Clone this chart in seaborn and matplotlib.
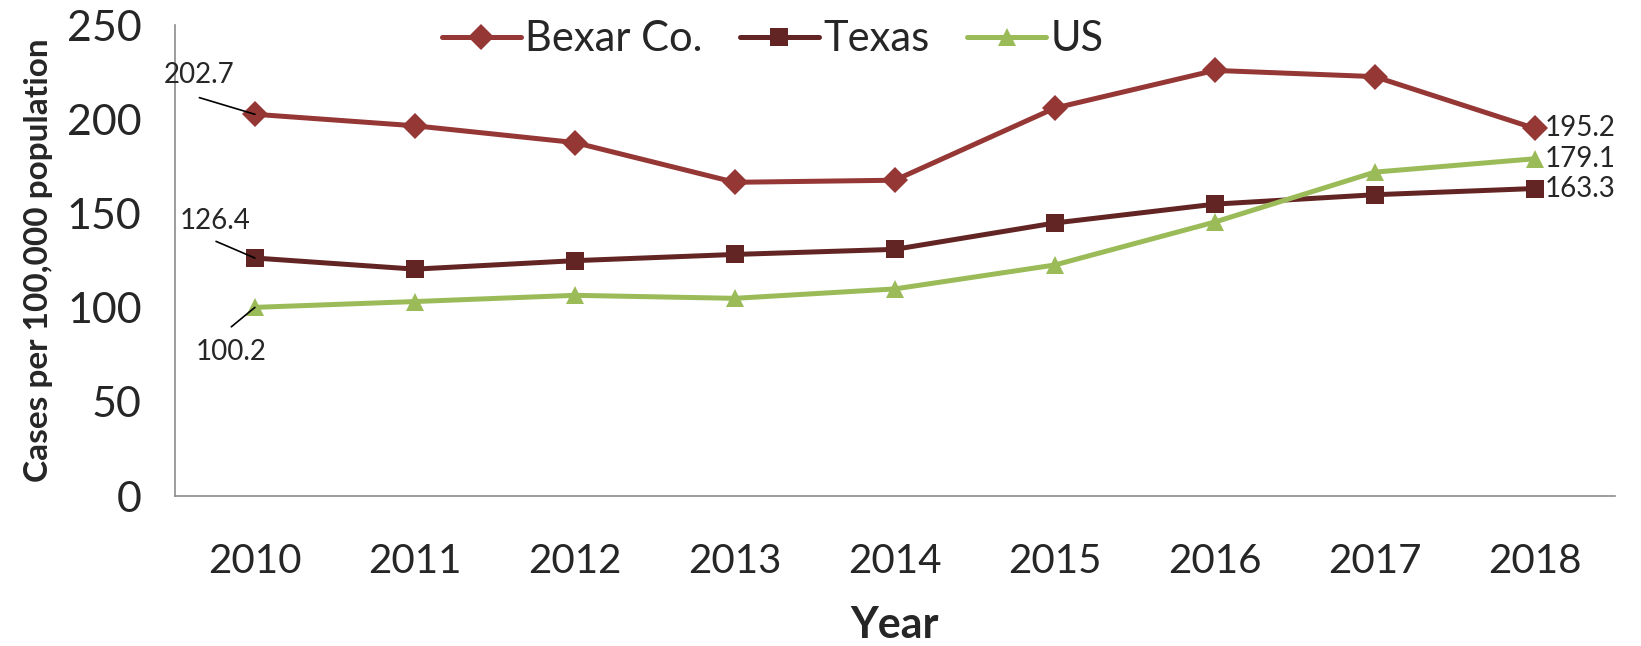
import matplotlib
matplotlib.use("Agg")
import matplotlib.pyplot as plt
import numpy as np
import pandas as pd
import seaborn as sns

# chart data
years = ["2010", "2011", "2012", "2013", "2014", "2015", "2016", "2017", "2018"]
bexar = [202.7, 196.6, 187.7, 166.6, 167.7, 206.0, 226.0, 222.7, 195.2]
texas = [126.4, 120.5, 125.0, 128.3, 131.0, 145.0, 155.0, 160.0, 163.3]
us = [100.2, 103.3, 106.6, 105.0, 110.0, 122.7, 145.5, 172.0, 179.1]
series_names = ["Bexar Co.", "Texas", "US"]
y_ticks = [0, 50, 100, 150, 200, 250]

colors = {"Bexar Co.": "#953735", "Texas": "#632523", "US": "#9BBB59"}
markers = {"Bexar Co.": "D", "Texas": "s", "US": "^"}

df = pd.DataFrame({
    "Year": years * 3,
    "idx": list(range(len(years))) * 3,
    "value": bexar + texas + us,
    "series": [s for s in series_names for _ in years],
})

sns.set_style("white")
plt.rcParams["font.family"] = ["Lato", "DejaVu Sans"]

fig = plt.figure(figsize=(16.41, 6.46), dpi=100)
ax = fig.add_axes([0.1066, 0.232, 0.8774, 0.729])

sns.lineplot(data=df, x="idx", y="value", hue="series", style="series",
             palette=colors, markers=markers, dashes=False, linewidth=3.6,
             markersize=13, markeredgewidth=0, ax=ax)

ax.set_xlim(-0.5, len(years) - 0.5)
ax.set_ylim(0, 250)
ax.set_xticks(range(len(years)))
ax.set_xticklabels(years, fontsize=29)
ax.set_yticks(y_ticks)
ax.set_yticklabels([str(t) for t in y_ticks], fontsize=31)
ax.tick_params(axis="x", length=0, pad=34)
ax.tick_params(axis="y", length=0, pad=24)
for side in ["top", "right"]:
    ax.spines[side].set_visible(False)
for side in ["left", "bottom"]:
    ax.spines[side].set_color("#8c8c8c")
    ax.spines[side].set_linewidth(1.2)

ax.set_xlabel("Year", fontsize=31, fontweight="bold", labelpad=18)
ax.set_ylabel("Cases per 100,000 population", fontsize=24, fontweight="bold", labelpad=10)

leg = ax.legend(loc="upper center", bbox_to_anchor=(0.415, 1.09), ncol=3, frameon=False,
                fontsize=30, handlelength=1.9, handletextpad=0.1, columnspacing=0.9)

# first-year labels: text offset, leader-line start offset (points)
first = [(bexar[0], (-40, 28), (-40, 12)),
         (texas[0], (-29, 27), (-28, 12)),
         (us[0], (-17, -32), (-17, -14))]
for val, text_off, line_off in first:
    ax.annotate("", xy=(0, val), xytext=line_off, textcoords="offset points",
                arrowprops=dict(arrowstyle="-", color="black", lw=1.2, shrinkA=0, shrinkB=0))
    ax.annotate(f"{val}", xy=(0, val), xytext=text_off, textcoords="offset points",
                ha="center", va="center", fontsize=20)

# last-year labels
last = len(years) - 1
for val in [bexar[-1], us[-1], texas[-1]]:
    ax.annotate(f"{val}", xy=(last, val), xytext=(7, 0), textcoords="offset points",
                ha="left", va="center", fontsize=20)

fig.savefig("out.png", dpi=100)
